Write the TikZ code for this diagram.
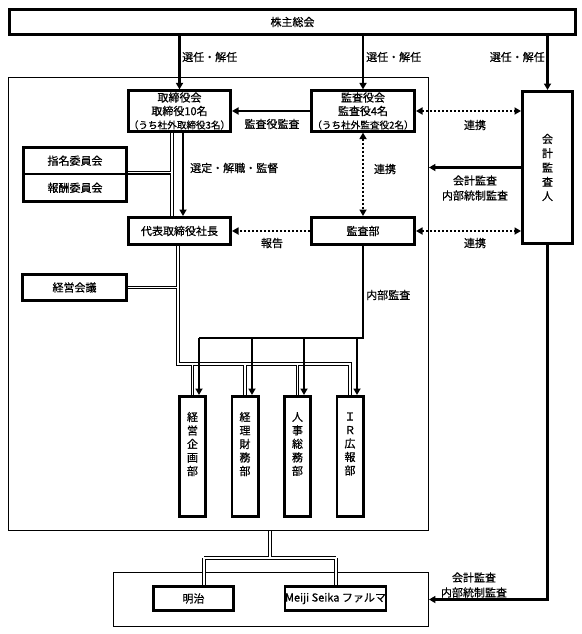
\documentclass[tikz,border=0pt]{standalone}
\usepackage{fontspec}
\setmainfont{Noto Sans CJK JP}[FakeBold=0.6]
\usetikzlibrary{arrows.meta}
\begin{document}
\begin{tikzpicture}[x=1pt,y=-1pt,
  every node/.style={font=\fontsize{11}{14}\selectfont, inner sep=0pt},
  tk/.style={draw, line width=2.8pt, fill=white},
  tn/.style={draw, line width=0.9pt},
  ln/.style={line width=2.4pt, line join=miter},
  arr/.style={line width=2.4pt, -{Triangle[length=6.5pt,width=7pt]}},
  dotl/.style={line width=2.4pt, dash pattern=on 2.2pt off 1.8pt},
  dotarr/.style={dotl, -{Triangle[length=6.5pt,width=7pt]}},
  dotdbl/.style={dotl, {Triangle[length=6.5pt,width=7pt]}-{Triangle[length=6.5pt,width=7pt]}},
  dbl/.style={line width=1.6pt, white, line join=miter, preaction={draw=black, line width=3.8pt}},
  vtext/.style={align=center, font=\fontsize{11}{13.5}\selectfont},
  three/.style={align=center, font=\fontsize{11}{13.5}\selectfont},
]
\useasboundingbox (0,0) rectangle (581,634);

% group boxes
\node[tn, minimum width=420pt, minimum height=453pt] (grp) at (218.5,304) {};
\node[tn, minimum width=315pt, minimum height=54pt] (bot) at (271,599.5) {};

% boxes
\node[tk, minimum width=566.2pt, minimum height=25.2pt] (sh) at (292.5,22) {株主総会};
\node[tk, three, minimum width=102.2pt, minimum height=40.4pt] (tb) at (179.5,111)
  {取締役会\\取締役10名\\{\fontsize{9.6}{13.5}\selectfont （うち社外取締役3名）}};
\node[tk, three, minimum width=103.2pt, minimum height=40.4pt] (ka) at (363,111)
  {監査役会\\監査役4名\\{\fontsize{9.6}{13.5}\selectfont （うち社外監査役2名）}};
\node[tk, minimum width=50.2pt, minimum height=152.2pt, align=center,
  font=\fontsize{11}{14.3}\selectfont] (kk) at (547.5,167.5) {会\\計\\監\\査\\人};
\node[tk, minimum width=103.2pt, minimum height=26.6pt] (sm) at (75,160.7) {指名委員会};
\node[tk, minimum width=103.2pt, minimum height=27.6pt] (hs) at (75,187.8) {報酬委員会};
\node[tk, minimum width=102.2pt, minimum height=27.2pt] (dp) at (179.5,231) {代表取締役社長};
\node[tk, minimum width=103.2pt, minimum height=27.2pt] (kb) at (363,231) {監査部};
\node[tk, minimum width=104.2pt, minimum height=26.2pt] (kg) at (74.5,287.5) {経営会議};
\node[tk, minimum width=26.2pt, minimum height=120.2pt] (d1) at (192.5,456.5) {};
\node[tk, minimum width=26.2pt, minimum height=120.2pt] (d2) at (245,456.5) {};
\node[tk, minimum width=26.2pt, minimum height=120.2pt] (d3) at (297.5,456.5) {};
\node[tk, minimum width=26.2pt, minimum height=120.2pt] (d4) at (350,456.5) {};
\node[vtext] (t1) at (192.5,444) {経\\営\\企\\画\\部};
\node[vtext] (t2) at (245,444) {経\\理\\財\\務\\部};
\node[vtext] (t3) at (297.5,444) {人\\事\\総\\務\\部};
\node[vtext] (t4) at (350,444) {Ｉ\\Ｒ\\広\\報\\部};
\node[tk, minimum width=80.2pt, minimum height=24.2pt] (mj) at (193.5,598.5) {明治};
\node[tk, minimum width=100.2pt, minimum height=24.2pt] (ms) at (335.5,598.5) {Meiji Seika ファルマ};

% coordinates
\coordinate (v0) at (183,0);
\coordinate (v1) at (172,0);
\coordinate (v2) at (178,364);
\coordinate (v3) at (270,558);
\coordinate (b1) at (204,558);
\coordinate (b2) at (336,558);
\coordinate (au) at (363,338);
\coordinate (a1) at (199,338);
\coordinate (a2) at (252,338);
\coordinate (a3) at (304,338);
\coordinate (a4) at (357,338);

% double lines
\draw[dbl] (tb.south -| v1) -- (dp.north -| v1)
  (hs.north east) -- (hs.north east -| v1);
\draw[dbl] (dp.south -| v2) -- (v2) -- (v2 -| d4.north) -- (d4.north)
  (v2 -| d1.north) -- (d1.north)
  (v2 -| d2.north) -- (d2.north)
  (v2 -| d3.north) -- (d3.north)
  (kg.east) -- (kg.east -| v2);
\draw[dbl] (grp.south -| v3) -- (v3)
  (b1) -- (b2)
  (b1) -- (b1 |- mj.north)
  (b2) -- (b2 |- ms.north);

% election arrows
\draw[arr] (sh.south -| tb.north) -- (tb.north);
\draw[arr] (sh.south -| ka.north) -- (ka.north);
\draw[arr] (sh.south -| kk.north) -- (kk.north);
\node[anchor=west] (l1) at (182,57) {選任・解任};
\node[anchor=west] (l2) at (366,57) {選任・解任};
\node[anchor=east] (l3) at (545,57) {選任・解任};

% audit board
\draw[arr] (ka.west) -- (tb.east);
\node (l4) at (272,124) {監査役監査};
\draw[dotdbl] (ka.east) -- (ka.east -| kk.west);
\node (l5) at (475,125) {連携};
\draw[arr] (kk.west) -- (kk.west -| grp.east);
\node[align=center, font=\fontsize{11}{15}\selectfont] (l6) at (475,188) {会計監査\\内部統制監査};
\draw[dotdbl] (ka.south) -- (kb.north);
\node (l7) at (385,169) {連携};
\draw[dotarr] (kb.west) -- (dp.east);
\node (l8) at (272,243) {報告};
\draw[dotdbl] (kb.east) -- (kb.east -| kk.west);
\node (l9) at (475,243) {連携};

% board to president
\draw[arr] (tb.south -| v0) -- (dp.north -| v0);
\node[anchor=west] (l10) at (190,168) {選定・解職・監督};

% internal audit
\draw[ln] (kb.south) -- (au) -- (a1);
\draw[arr] (a1) -- (a1 |- d1.north);
\draw[arr] (a2) -- (a2 |- d2.north);
\draw[arr] (a3) -- (a3 |- d3.north);
\draw[arr] (a4) -- (a4 |- d4.north);
\node[anchor=west] (l11) at (366,295) {内部監査};

% auditor to subsidiaries
\draw[ln, -{Triangle[length=6.5pt,width=7pt]}] (kk.south) -- (kk.south |- bot.east) -- (bot.east);
\node[align=center, font=\fontsize{11}{15}\selectfont] (l12) at (474,585) {会計監査\\内部統制監査};
\end{tikzpicture}
\end{document}
